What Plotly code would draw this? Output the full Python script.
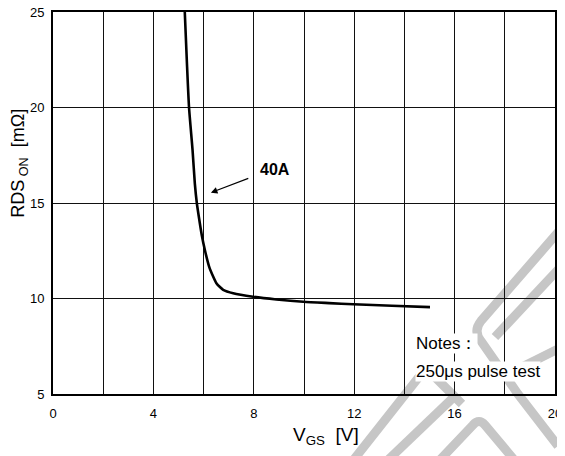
import plotly.graph_objects as go

# Data
vgs = [5.25, 5.33, 5.42, 5.56, 5.65, 5.73, 5.81, 5.93, 6.05, 6.22, 6.38, 6.51, 6.65, 6.78, 7.18, 7.97, 8.9, 9.97, 11.0, 11.96, 13.5, 15.02]
rds = [25.0, 22.5, 20.0, 17.77, 16.03, 15.0, 14.28, 13.3, 12.54, 11.67, 11.15, 10.8, 10.6, 10.45, 10.27, 10.09, 9.95, 9.83, 9.76, 9.70, 9.62, 9.55]

x_tickvals = [0, 2, 4, 6, 8, 10, 12, 14, 16, 18, 20]
x_ticktext = ["0", "", "4", "", "8", "", "12", "", "16", "", "20"]
y_tickvals = [5, 10, 15, 20, 25]
y_ticktext = ["5", "10", "15", "20", "25"]

curve_label = "40A"
notes_line1 = "Notes："
notes_line2 = "250μs pulse test"
x_title = "V<sub>GS</sub>  [V]"
y_title = "RDS<sub> ON</sub>  [mΩ]"

FONT = "Liberation Sans, Arial, sans-serif"

# The page body has an 8px default margin; size the figure to compensate
OFF = 8
W, H = 565 - OFF, 456 - OFF
L, R, T, B = 53.3 - OFF, 10, 12 - OFF, 62
pw, ph = W - L - R, H - T - B

def px(xp, yp):
    # page pixel -> paper coords
    return (xp - OFF - L) / pw, (H - B - (yp - OFF)) / ph

def path(cmds):
    out = []
    for c in cmds:
        op, pts = c[0], c[1:]
        coords = " ".join("%.5f,%.5f" % px(*p) for p in pts)
        out.append(op + " " + coords)
    return " ".join(out)

fig = go.Figure()
fig.add_trace(go.Scatter(x=vgs, y=rds, mode="lines",
                         line=dict(color="black", width=2.6, shape="spline", smoothing=0.6),
                         showlegend=False, hoverinfo="skip"))

# Watermark strokes (decorative), page-pixel geometry
wm_paths = [
    [("M", (560, 230)), ("L", (481, 321)), ("Q", (473, 331), (481, 341)), ("L", (518, 394)), ("L", (558, 446))],
    [("M", (568, 259)), ("L", (495, 337))],
    [("M", (568, 344)), ("L", (522, 367))],
    [("M", (352, 462)), ("L", (419, 377)), ("Q", (426, 368), (434, 376)), ("L", (462, 404))],
    [("M", (386, 462)), ("L", (455, 396))],
    [("M", (438, 462)), ("L", (473, 425)), ("Q", (479, 418), (485, 425)), ("L", (516, 462))],
]
for p in wm_paths:
    fig.add_shape(type="path", xref="paper", yref="paper", path=path(p),
                  line=dict(color="#c6c6c6", width=9), layer="below")

fig.add_annotation(x=8.86, y=16.77, text="<b>" + curve_label + "</b>", showarrow=False,
                   font=dict(family=FONT, size=16, color="black"))
fig.add_annotation(x=6.29, y=15.54, ax=7.84, ay=16.32, axref="x", ayref="y", xref="x", yref="y",
                   text="", showarrow=True, arrowhead=2, arrowsize=1.2, arrowwidth=1.1, arrowcolor="black")

fig.add_annotation(x=14.42, y=7.62, text=notes_line1, showarrow=False, xanchor="left", yanchor="middle",
                   bgcolor="white", borderpad=0, font=dict(family=FONT, size=17, color="black"))
fig.add_annotation(x=14.42, y=6.18, text=notes_line2, showarrow=False, xanchor="left", yanchor="middle",
                   bgcolor="white", borderpad=0, font=dict(family=FONT, size=17, color="black"))

fig.add_annotation(xref="paper", yref="paper", x=0.5435, y=-0.146, text=x_title, showarrow=False,
                   font=dict(family=FONT, size=19, color="black"))
fig.add_annotation(xref="paper", yref="paper", x=-0.093, y=0.605, text=y_title, showarrow=False,
                   textangle=-90, font=dict(family=FONT, size=18, color="black"))

fig.update_xaxes(range=[0, 20], tickvals=x_tickvals, ticktext=x_ticktext,
                 showgrid=True, gridcolor="#111", gridwidth=1,
                 showline=True, linecolor="black", linewidth=2, mirror=True,
                 ticks="", ticklabelstandoff=6, zeroline=False, automargin=False,
                 ticklabeloverflow="allow",
                 tickfont=dict(family=FONT, size=13, color="black"))
fig.update_yaxes(range=[5, 25], tickvals=y_tickvals, ticktext=y_ticktext,
                 showgrid=True, gridcolor="#111", gridwidth=1,
                 showline=True, linecolor="black", linewidth=2, mirror=True,
                 ticks="", ticklabelstandoff=4, zeroline=False, automargin=False,
                 ticklabeloverflow="allow",
                 tickfont=dict(family=FONT, size=13, color="black"))

fig.update_layout(width=W, height=H, margin=dict(l=L, r=R, t=T, b=B, autoexpand=False),
                  paper_bgcolor="white", plot_bgcolor="rgba(0,0,0,0)",
                  font=dict(family=FONT, color="black"))

fig.write_html("out.html")
